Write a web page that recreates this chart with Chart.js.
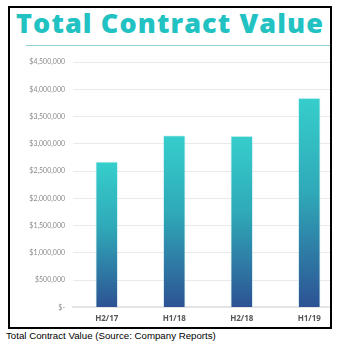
<!DOCTYPE html>
<html>
<head>
<meta charset="utf-8">
<script src="https://cdn.jsdelivr.net/npm/chart.js@4"></script>
<style>
  html, body { margin: 0; padding: 0; background: #fff; overflow: hidden; }
  body { width: 341px; height: 346px; position: relative; }
  #frame {
    position: absolute; left: 8px; top: 6px; width: 324px; height: 323px;
    box-sizing: border-box; border: 2px solid #000; overflow: hidden;
  }
  #title {
    position: absolute; left: 0; top: 0; width: 320px; text-align: center;
    font: 800 27px "Open Sans", sans-serif; letter-spacing: 1.1px; color: #22c2c3; line-height: 30px;
    white-space: nowrap;
  }
  #rule { position: absolute; left: 16px; top: 37px; width: 320px; height: 1px; background: #93d2d3; }
  #wrap { position: absolute; left: 0; top: 0; width: 336px; height: 328px; }
  #caption {
    position: absolute; left: 6px; top: 330px; font: 9.7px "Liberation Sans", sans-serif; color: #000;
    white-space: nowrap;
  }
</style>
</head>
<body>
<div id="frame">
  <div id="title">Total Contract Value</div>
  <div id="rule"></div>
  <div id="wrap"><canvas id="chart"></canvas></div>
</div>
<div id="caption">Total Contract Value (Source: Company Reports)</div>
<script>
const periods = ['H2/17', 'H1/18', 'H2/18', 'H1/19'];
const contractValues = [2670000, 3150000, 3140000, 3840000];
const yTickLabels = ['$-', '$500,000', '$1,000,000', '$1,500,000', '$2,000,000',
                     '$2,500,000', '$3,000,000', '$3,500,000', '$4,000,000', '$4,500,000'];

// each bar fades from teal at its top to navy at its base
function barGradient(ctx) {
  const chart = ctx.chart;
  if (!chart.chartArea || ctx.dataIndex === undefined) return '#2fa8b8';
  const y = chart.scales.y;
  const top = y.getPixelForValue(contractValues[ctx.dataIndex]);
  const base = y.getPixelForValue(0);
  const g = chart.ctx.createLinearGradient(0, top, 0, base);
  g.addColorStop(0, '#36cecc');
  g.addColorStop(0.45, '#2fa9b8');
  g.addColorStop(1, '#2d5294');
  return g;
}

new Chart(document.getElementById('chart'), {
  type: 'bar',
  data: {
    labels: periods,
    datasets: [{
      data: contractValues,
      backgroundColor: barGradient,
      borderColor: 'rgba(200,240,240,0.5)',
      borderWidth: 1,
      barThickness: 22
    }]
  },
  options: {
    responsive: true,
    maintainAspectRatio: false,
    animation: false,
    layout: { padding: { top: 54, right: 3, bottom: 5, left: 0 } },
    plugins: { legend: { display: false }, tooltip: { enabled: false } },
    scales: {
      x: {
        grid: { display: false, drawTicks: false },
        border: { display: true, color: '#e4e4e4', width: 2 },
        ticks: { padding: 7, color: '#555', font: { family: 'Open Sans', size: 8, weight: 'bold' } }
      },
      y: {
        min: 0,
        max: 4500000,
        afterFit: s => { s.width = 63; },
        grid: { color: '#e9e9e9', drawTicks: false },
        border: { display: false },
        ticks: {
          stepSize: 500000,
          padding: 8,
          color: '#8a8a8a',
          font: { family: 'Lato', size: 7 },
          callback: (v, i) => yTickLabels[i]
        }
      }
    }
  }
});
</script>
</body>
</html>
